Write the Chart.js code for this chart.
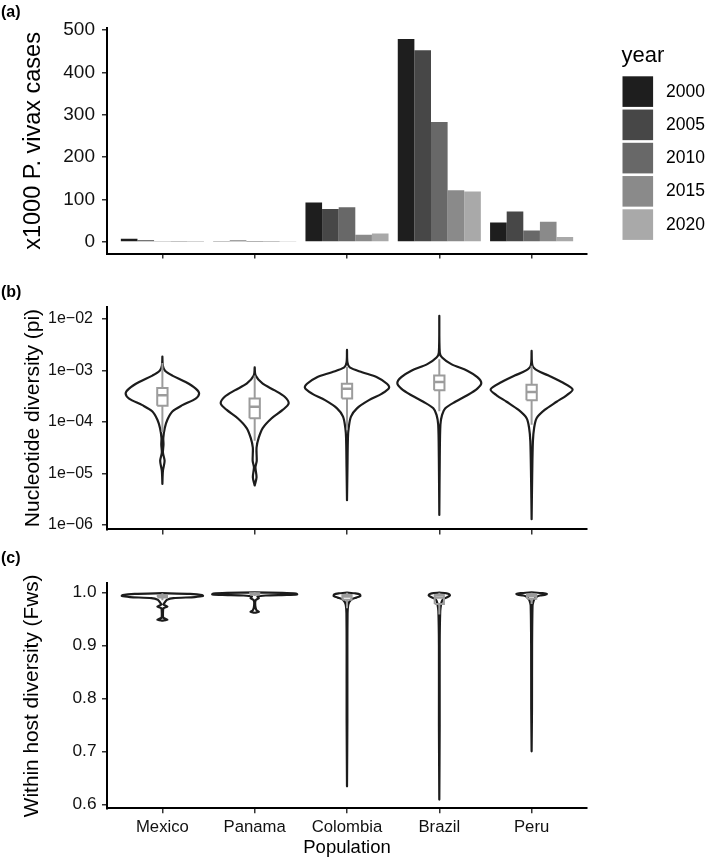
<!DOCTYPE html>
<html><head><meta charset="utf-8">
<script src="https://cdn.jsdelivr.net/npm/chart.js@4/dist/chart.umd.min.js"></script>
<style>
html,body{margin:0;padding:0;background:#fff;}
body{width:709px;height:860px;position:relative;overflow:hidden;}
canvas{position:absolute;left:0;}
</style></head>
<body>
<canvas id="ca" width="709" height="272" style="top:0px"></canvas>
<canvas id="cb" width="709" height="276" style="top:272px"></canvas>
<canvas id="cc" width="709" height="312" style="top:548px"></canvas>
<script>
// ---------------- DATA ----------------
const populations = ['Mexico', 'Panama', 'Colombia', 'Brazil', 'Peru'];
const years = ['2000', '2005', '2010', '2015', '2020'];
// x1000 P. vivax cases per population
const cases2000 = [7.5, 1.2, 93, 479, 46];
const cases2005 = [4, 3.5, 78, 452, 72];
const cases2010 = [1.5, 0.8, 82, 283, 27];
const cases2015 = [0.6, 0.4, 17, 122, 48];
const cases2020 = [0.4, 1.2, 20, 119, 12];
const caseTicks = [0, 100, 200, 300, 400, 500];

// Nucleotide diversity violins: outline values (top to bottom) and half-widths (category units)
const piValMexico = [1.87e-3, 1.24e-3, 9.9e-4, 7.96e-4, 5.96e-4, 4.44e-4, 3.56e-4, 2.85e-4, 2.12e-4, 1.59e-4, 1.10e-4, 7.6e-5, 4.89e-5, 3.65e-5, 2.53e-5, 1.75e-5, 1.13e-5, 6.25e-6];
const piWMexico   = [0, 0.005, 0.029, 0.108, 0.252, 0.361, 0.398, 0.361, 0.217, 0.108, 0.054, 0.026, 0.01, 0.012, 0.006, 0.024, 0.006, 0];
const piValPanama = [1.15e-3, 7.96e-4, 5.53e-4, 4.11e-4, 3.08e-4, 2.29e-4, 1.71e-4, 1.18e-4, 7.6e-5, 4.89e-5, 3.15e-5, 1.75e-5, 1.31e-5, 8.4e-6, 5.83e-6];
const piWPanama   = [0, 0.01, 0.087, 0.217, 0.325, 0.368, 0.303, 0.184, 0.087, 0.043, 0.02, 0.022, 0.008, 0.02, 0];
const piValColombia = [2.51e-3, 1.44e-3, 1.15e-3, 9.26e-4, 7.43e-4, 5.53e-4, 4.57e-4, 3.56e-4, 2.65e-4, 1.84e-4, 1.27e-4, 7.6e-5, 4.89e-5, 1.31e-5, 3.0e-6];
const piWColombia   = [0, 0.005, 0.03, 0.163, 0.325, 0.433, 0.455, 0.379, 0.238, 0.108, 0.043, 0.018, 0.01, 0.005, 0];
const piValBrazil = [1.16e-2, 2.23e-3, 1.79e-3, 1.33e-3, 9.93e-4, 7.43e-4, 5.70e-4, 4.44e-4, 3.30e-4, 2.47e-4, 1.84e-4, 1.37e-4, 8.8e-5, 2.03e-5, 1.55e-6];
const piWBrazil   = [0, 0.005, 0.03, 0.13, 0.303, 0.412, 0.455, 0.412, 0.303, 0.173, 0.065, 0.03, 0.012, 0.005, 0];
const piValPeru = [2.40e-3, 1.24e-3, 9.93e-4, 7.96e-4, 5.96e-4, 4.30e-4, 3.30e-4, 2.47e-4, 1.71e-4, 1.18e-4, 7.6e-5, 4.24e-5, 8.4e-6, 1.28e-6];
const piWPeru   = [0, 0.01, 0.065, 0.184, 0.325, 0.444, 0.379, 0.271, 0.141, 0.054, 0.027, 0.014, 0.006, 0];
// boxplot stats (pi)
const piHi  = [1.40e-3, 7.96e-4, 1.17e-3, 1.66e-3, 1.24e-3];
const piQ3  = [4.57e-4, 2.85e-4, 5.53e-4, 7.96e-4, 5.28e-4];
const piMed = [3.30e-4, 1.98e-4, 4.44e-4, 5.96e-4, 3.84e-4];
const piQ1  = [2.07e-4, 1.18e-4, 2.85e-4, 4.11e-4, 2.65e-4];
const piLo  = [6.4e-5, 4.3e-5, 7.06e-5, 1.61e-4, 8.8e-5];
const piTicks = [1e-6, 1e-5, 1e-4, 1e-3, 1e-2];
const piTickLabels = ['1e\u221206', '1e\u221205', '1e\u221204', '1e\u221203', '1e\u221202'];

// Within host diversity (Fws) violins
const fwsValMexico = [0.9985, 0.997, 0.995, 0.993, 0.991, 0.989, 0.986, 0.982, 0.977, 0.973, 0.970, 0.960, 0.952, 0.9485, 0.9465];
const fwsWMexico   = [0, 0.30, 0.43, 0.44, 0.35, 0.12, 0.05, 0.03, 0.012, 0.055, 0.012, 0.006, 0.01, 0.055, 0];
const fwsValPanama = [1.0, 0.9988, 0.9975, 0.9962, 0.995, 0.994, 0.992, 0.989, 0.985, 0.975, 0.966, 0.963, 0.9615];
const fwsWPanama   = [0, 0.30, 0.45, 0.46, 0.35, 0.12, 0.03, 0.045, 0.01, 0.006, 0.02, 0.045, 0];
const fwsValColombia = [0.9995, 0.998, 0.996, 0.993, 0.990, 0.987, 0.982, 0.975, 0.96, 0.90, 0.76, 0.634];
const fwsWColombia   = [0, 0.09, 0.14, 0.145, 0.10, 0.05, 0.025, 0.012, 0.006, 0.004, 0.004, 0];
const fwsValBrazil = [0.9995, 0.998, 0.996, 0.994, 0.991, 0.988, 0.984, 0.978, 0.965, 0.90, 0.75, 0.609];
const fwsWBrazil   = [0, 0.08, 0.11, 0.115, 0.09, 0.05, 0.03, 0.02, 0.01, 0.004, 0.004, 0];
const fwsValPeru = [1.0, 0.9985, 0.997, 0.9955, 0.994, 0.991, 0.987, 0.982, 0.975, 0.90, 0.78, 0.70];
const fwsWPeru   = [0, 0.12, 0.165, 0.15, 0.09, 0.05, 0.03, 0.018, 0.01, 0.005, 0.004, 0];
const fwsHi  = [0.998, 1.0, 0.999, 0.999, 0.999];
const fwsQ3  = [0.994, 0.998, 0.995, 0.995, 0.996];
const fwsMed = [0.992, 0.997, 0.992, 0.990, 0.993];
const fwsQ1  = [0.990, 0.996, 0.986, 0.978, 0.988];
const fwsLo  = [0.985, 0.993, 0.970, 0.958, 0.978];
const fwsTicks = [0.6, 0.7, 0.8, 0.9, 1.0];
const fwsTickLabels = ['0.6', '0.7', '0.8', '0.9', '1.0'];

// ---------------- STYLE ----------------
const FONT = "'Liberation Sans', Arial, Helvetica, sans-serif";
Chart.defaults.font.family = FONT;
const yearColors = ['#1e1e1e', '#474747', '#686868', '#8a8a8a', '#a9a9a9'];
const violinColor = '#1c1c1c';
const boxColor = '#9c9c9c';
const AXIS_LEFT = 107, PLOT_RIGHT_PAD = 122;

const panelLabel = {
  id: 'panelLabel',
  afterDraw(chart, args, opts) {
    const ctx = chart.ctx;
    ctx.save();
    ctx.font = 'bold 16px ' + FONT;
    ctx.fillStyle = '#000';
    ctx.textBaseline = 'middle';
    ctx.textAlign = 'left';
    ctx.fillText(opts.text, 1, opts.y);
    ctx.restore();
  }
};

const yearLegend = {
  id: 'yearLegend',
  afterDraw(chart) {
    const ctx = chart.ctx;
    const x0 = chart.chartArea.right + 35.5;
    ctx.save();
    ctx.fillStyle = '#000';
    ctx.font = '22px ' + FONT;
    ctx.textBaseline = 'alphabetic';
    ctx.textAlign = 'left';
    ctx.fillText('year', x0 - 1, 61.5);
    chart.data.datasets.forEach((ds, k) => {
      const y0 = 76.3 + k * 33.25;
      ctx.fillStyle = ds.backgroundColor;
      ctx.fillRect(x0, y0, 30.6, 30.6);
      ctx.fillStyle = '#000';
      ctx.font = '17.5px ' + FONT;
      ctx.textBaseline = 'middle';
      ctx.fillText(ds.label, x0 + 43.5, y0 + 15.6);
    });
    ctx.restore();
  }
};

const gridOpts = { display: true, offset: false, drawOnChartArea: false, drawTicks: true, tickLength: 5, tickWidth: 1.5, lineWidth: 1.5, tickColor: '#333', color: '#333' };
const borderOpts = { display: true, color: '#000', width: 2 };

function yAxis(type, min, max, ticks, labels, title, tickSize, tickPad, titleSize, titleCenter) {
  return {
    type, min, max, bounds: 'data', position: 'left',
    afterFit: s => { s.width = AXIS_LEFT; },
    afterBuildTicks: s => { s.ticks = ticks.map(v => ({ value: v })); },
    ticks: { callback: (v, i) => labels[i], font: { size: tickSize }, color: '#111', padding: tickPad, autoSkip: false },
    grid: gridOpts, border: borderOpts,
    title: { display: true, text: title, font: { size: titleSize }, color: '#000', padding: { top: titleCenter - titleSize * 0.6, bottom: 0 } }
  };
}
function xAxis(height, showLabels) {
  return {
    type: 'linear', min: -0.6, max: 4.6, bounds: 'data', offset: false, position: 'bottom',
    afterFit: s => { s.height = height; },
    afterBuildTicks: s => { s.ticks = populations.map((p, i) => ({ value: i })); },
    ticks: { display: showLabels, callback: (v, i) => populations[i], font: { size: 16.7 }, color: '#111', padding: 4, autoSkip: false, maxRotation: 0 },
    grid: gridOpts, border: borderOpts,
    title: { display: showLabels, text: 'Population', font: { size: 18.5 }, color: '#000', padding: { top: 0, bottom: 1 } }
  };
}
function baseOptions(padTop) {
  return {
    responsive: false, animation: false, events: [],
    layout: { padding: { left: 0, right: PLOT_RIGHT_PAD, top: padTop, bottom: 0 } },
  };
}

function violinDatasets(vals, widths, lo, q1, med, q3, hi, bw, tension) {
  const ds = [];
  vals.forEach((v, i) => {
    const w = widths[i];
    const right = v.map((y, k) => ({ x: i + w[k], y }));
    const left = v.map((y, k) => ({ x: i - w[k], y })).reverse();
    ds.push({ type: 'line', data: right.concat(left), borderColor: violinColor, borderWidth: 2.2, pointRadius: 0, tension, fill: false, order: 3, borderJoinStyle: 'round', borderCapStyle: 'round' });
    ds.push({ type: 'line', data: [{ x: i, y: hi[i] }, { x: i, y: q3[i] }, { x: i, y: null }, { x: i, y: q1[i] }, { x: i, y: lo[i] }], borderColor: boxColor, borderWidth: 2, pointRadius: 0, tension: 1e-6, spanGaps: false, fill: false, order: 2 });
    ds.push({ type: 'line', data: [{ x: i - bw, y: q1[i] }, { x: i + bw, y: q1[i] }, { x: i + bw, y: q3[i] }, { x: i - bw, y: q3[i] }, { x: i - bw, y: q1[i] }], borderColor: boxColor, borderWidth: 2, pointRadius: 0, tension: 1e-6, fill: false, order: 1, borderJoinStyle: 'miter' });
    ds.push({ type: 'line', data: [{ x: i - bw, y: med[i] }, { x: i + bw, y: med[i] }], borderColor: boxColor, borderWidth: 2.5, pointRadius: 0, tension: 1e-6, fill: false, order: 1 });
  });
  return ds;
}

// ---------------- PANEL (a) ----------------
const casesByYear = [cases2000, cases2005, cases2010, cases2015, cases2020];
new Chart(document.getElementById('ca'), {
  type: 'bar',
  data: {
    datasets: casesByYear.map((arr, k) => ({
      label: years[k],
      data: arr.map((v, i) => ({ x: i, y: v })),
      backgroundColor: yearColors[k],
      borderWidth: 0,
      categoryPercentage: 0.9,
      barPercentage: 1.0
    }))
  },
  options: Object.assign(baseOptions(28.3), {
    plugins: { legend: { display: false }, tooltip: { enabled: false }, panelLabel: { text: '(a)', y: 13 } },
    scales: {
      x: xAxis(16, false),
      y: yAxis('linear', -27.3, 504, caseTicks, caseTicks.map(String), 'x1000 P. vivax cases', 19, 7, 23.5, 34)
    }
  }),
  plugins: [panelLabel, yearLegend]
});

// ---------------- PANEL (b) ----------------
new Chart(document.getElementById('cb'), {
  type: 'line',
  data: {
    datasets: violinDatasets(
      [piValMexico, piValPanama, piValColombia, piValBrazil, piValPeru],
      [piWMexico, piWPanama, piWColombia, piWBrazil, piWPeru],
      piLo, piQ1, piMed, piQ3, piHi, 0.056, 0.3)
  },
  options: Object.assign(baseOptions(34.7), {
    plugins: { legend: { display: false }, tooltip: { enabled: false }, panelLabel: { text: '(b)', y: 21 } },
    scales: {
      x: xAxis(15, false),
      y: yAxis('logarithmic', Math.pow(10, -6.09), Math.pow(10, -1.759), piTicks, piTickLabels, 'Nucleotide diversity (pi)', 16, 9, 21, 33)
    }
  }),
  plugins: [panelLabel]
});

// ---------------- PANEL (c) ----------------
new Chart(document.getElementById('cc'), {
  type: 'line',
  data: {
    datasets: violinDatasets(
      [fwsValMexico, fwsValPanama, fwsValColombia, fwsValBrazil, fwsValPeru],
      [fwsWMexico, fwsWPanama, fwsWColombia, fwsWBrazil, fwsWPeru],
      fwsLo, fwsQ1, fwsMed, fwsQ3, fwsHi, 0.05, 0.2)
  },
  options: Object.assign(baseOptions(35.3), {
    plugins: { legend: { display: false }, tooltip: { enabled: false }, panelLabel: { text: '(c)', y: 11 } },
    scales: {
      x: xAxis(51.7, true),
      y: yAxis('linear', 0.5925, 1.017, fwsTicks, fwsTickLabels, 'Within host diversity (Fws)', 17.3, 5.5, 20.8, 32)
    }
  }),
  plugins: [panelLabel]
});
</script>
</body></html>
